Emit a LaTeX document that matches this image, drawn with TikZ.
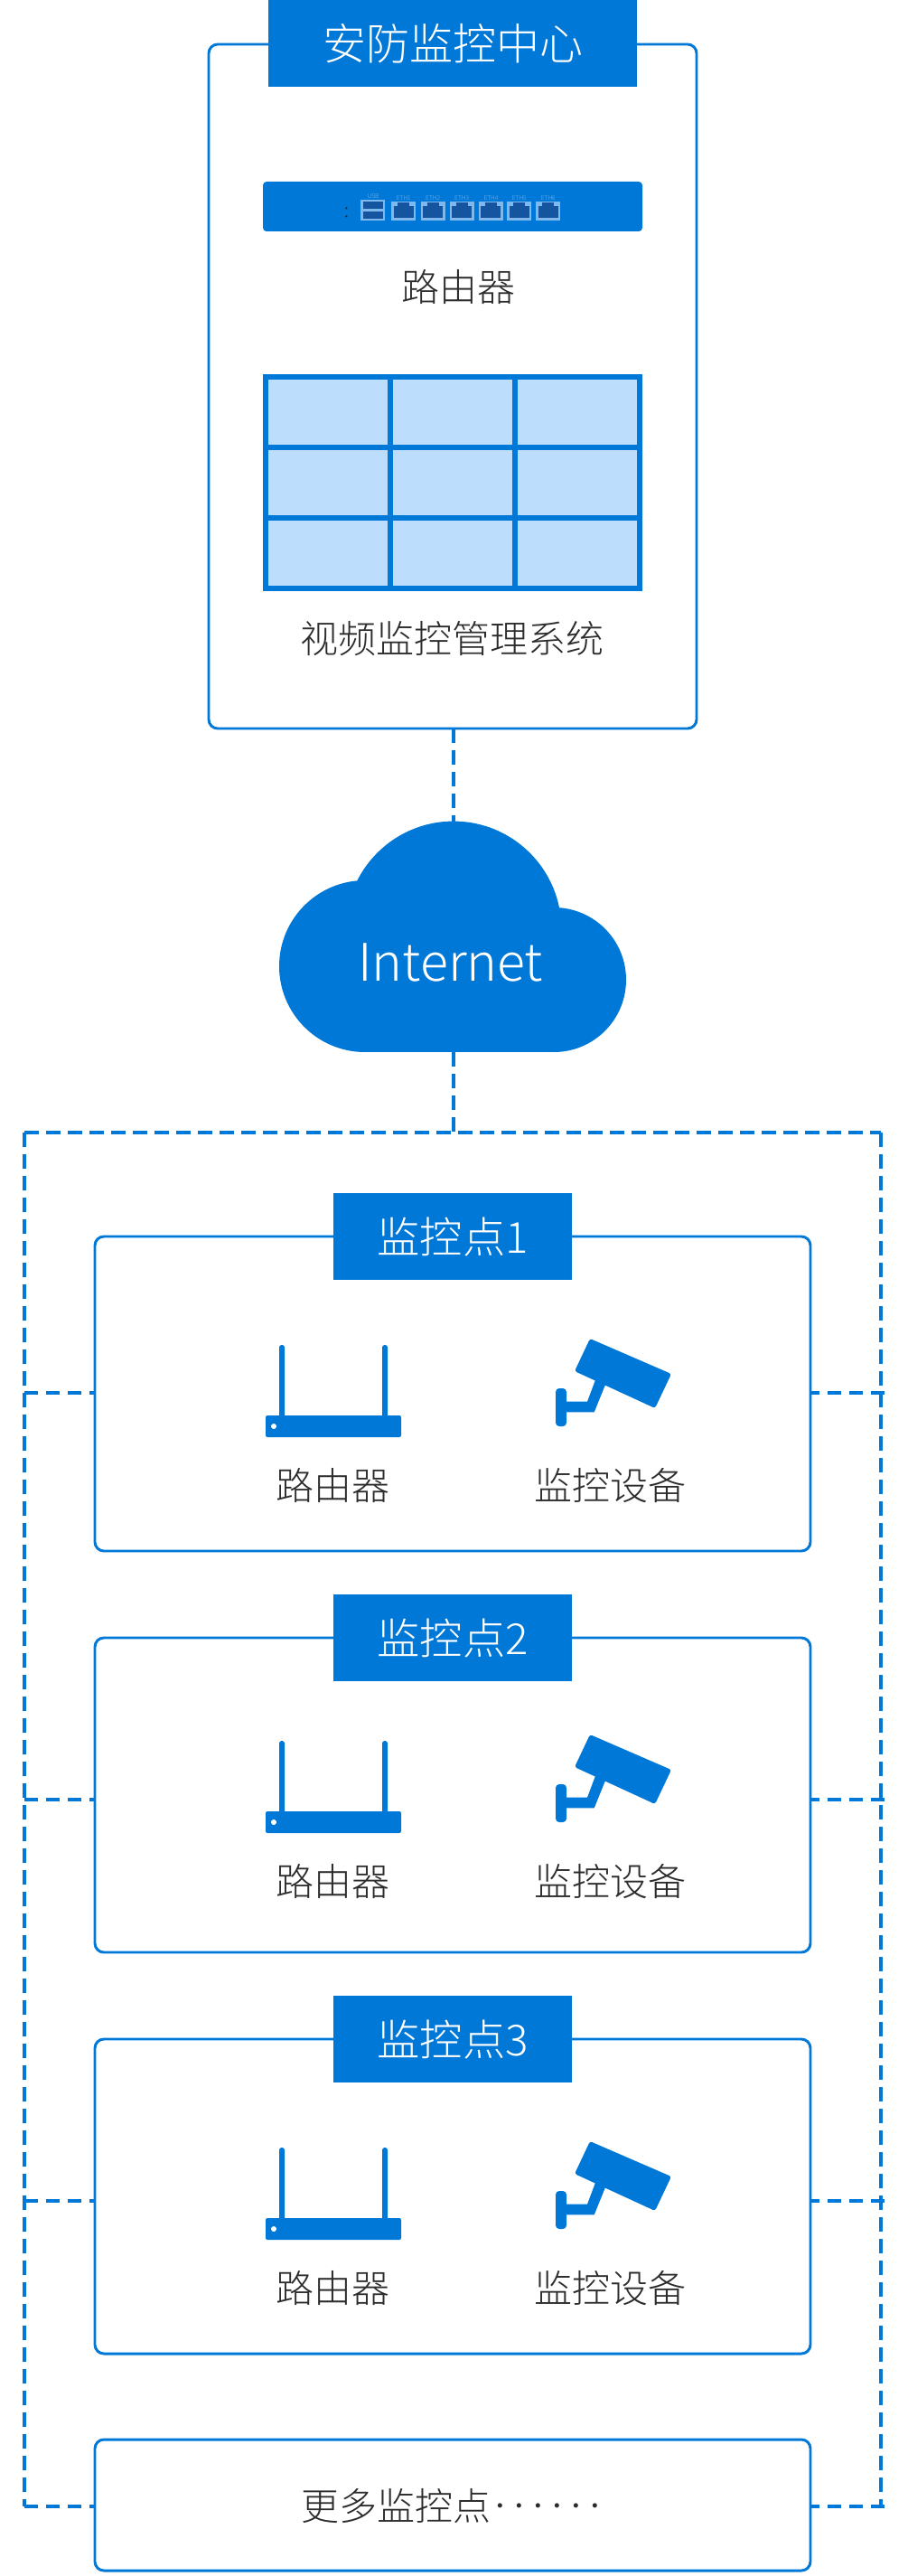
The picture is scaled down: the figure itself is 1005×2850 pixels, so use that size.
\documentclass[tikz,border=0pt]{standalone}
\usepackage{fontspec}
\setmainfont{Noto Sans CJK SC Light}
\definecolor{brand}{HTML}{0078D7}
\definecolor{ink}{HTML}{2C2C2C}
\definecolor{screen}{HTML}{BDDDFC}
\definecolor{port}{HTML}{7FB8EC}
\definecolor{portdark}{HTML}{15549E}
\newcommand{\pxu}{0.75pt}
\newcommand{\nardot}{\makebox[0.5em][c]{\raisebox{4.4pt}{\fontsize{20pt}{20pt}\selectfont ·}}}
\tikzset{
 x=0.75pt,y=-0.75pt,
 panel/.style={draw=brand,line width=2.2pt,fill=white,rounded corners=7.5pt,inner sep=0pt,outer sep=0pt},
 tag/.style={fill=brand,text=white,inner sep=0pt,anchor=center},
 caption/.style={text=ink,font=\fontsize{31.5pt}{32pt}\selectfont,inner sep=0pt,anchor=center},
 link/.style={draw=brand,line width=2.5pt,dash pattern=on 12pt off 6pt},
 sidelink/.style={draw=brand,line width=2.5pt,dash pattern=on 11pt off 7pt},
 portlabel/.style={font=\fontsize{5pt}{5pt}\selectfont,text=port,inner sep=0pt},
}
\newcommand{\siteicons}[2]{%
 \begin{scope}[shift={(0,#1)}]
 \fill[brand,rounded corners=2pt] (309,1488) rectangle (315,1572);
 \fill[brand,rounded corners=2pt] (423,1488) rectangle (429,1572);
 \fill[brand,rounded corners=1.5pt] (294,1566) rectangle (444,1590);
 \fill[white] (303,1578) circle (3);
 \fill[brand] (659.3,1526) -- (670,1532) -- (657.7,1562.3) -- (625,1562.3) -- (625,1550.7) -- (650,1550.7) -- cycle;
 \fill[brand,rounded corners=2pt] (653,1481) -- (743,1520) -- (725,1558) -- (636,1517) -- cycle;
 \fill[brand,rounded corners=3pt] (615,1536) rectangle (627,1578);
 \node[caption] (#2r) at (368.5,1643.5) {路由器};
 \node[caption] (#2c) at (675,1643.5) {监控设备};
 \end{scope}}
\begin{document}
\begin{tikzpicture}
\useasboundingbox (0,0) rectangle (1005,2850);
\fill[white] (0,0) rectangle (1005,2850);
% frame
\coordinate (ftl) at (27,1253);
\coordinate (ftr) at (975,1253);
\coordinate (fbl) at (27,2773);
\coordinate (fbr) at (975,2773);
\coordinate (ltip) at (27,2773);
\coordinate (rtip) at (979,2773);
\draw[link] (ftl) -- (ftr);
\draw[link] (ftl) -- (fbl);
\draw[link] (ftr) -- (fbr);
% centre
\node[panel,minimum width=540*\pxu,minimum height=757*\pxu] (center) at (501,427.5) {};
\node[tag,minimum width=408*\pxu,minimum height=96*\pxu,font=\fontsize{36pt}{36pt}\selectfont] (centertag) at (501,48) {安防监控中心};
% cloud
\node[inner sep=0pt,outer sep=0pt,minimum width=386*\pxu,minimum height=255*\pxu] (cloud) at (502,1036.5) {};
\draw[link] (center.south -| cloud.north) -- (cloud.north);
\draw[link] (cloud.south) -- (ftl -| cloud.south);
\fill[brand] (404,1069) circle (95);
\fill[brand] (613,1084) circle (80);
\fill[brand] (502,1028) circle (119.4);
\fill[brand] (404,1040) rectangle (613,1164);
\node[text=white,font=\fontsize{43pt}{43pt}\selectfont,inner sep=0pt] (net) at (498.5,1065) {Internet};
% router panel
\fill[brand,rounded corners=3pt] (291,201) rectangle (711,256);
\node[portlabel] (usb) at (413,217.3) {USB};
\fill[port] (399.3,221) rectangle (426,243.7);
\fill[portdark] (402,223.3) rectangle (424,231.3);
\fill[portdark] (402,233.7) rectangle (424,241.7);
\fill[ink] (383.3,230.3) circle (1.3);
\fill[ink] (383.3,239.3) circle (1.3);
\foreach \px/\lbl in {433.3/ETH1,465.7/ETH2,497.7/ETH3,530/ETH4,561.3/ETH5,593.3/ETH6}{
 \fill[port] (\px,223) rectangle (\px+27,243.7);
 \fill[portdark] (\px+2.3,227.7) rectangle (\px+24.3,241);
 \fill[portdark] (\px+7,224.5) rectangle (\px+20,227.7);
 \node[portlabel] (p\lbl) at (\px+13.5,219) {\lbl};
}
\node[caption] (cr) at (507,317.5) {路由器};
% video wall
\fill[screen] (291,414) rectangle (711,654);
\draw[brand,line width=4.5pt] (294,417) rectangle (708,651);
\draw[brand,line width=4.5pt] (432,417) -- (432,651) (570,417) -- (570,651) (294,495) -- (708,495) (294,573) -- (708,573);
\node[caption] (cv) at (500,707) {视频监控管理系统};
% sites
\foreach \boxtop/\ly/\txt/\nm in {1368/1541/监控点1/a,1812/1991/监控点2/b,2256/2435/监控点3/c}{
 \draw[sidelink] (ftl |- 0,\ly) -- (105,\ly);
 \draw[sidelink] (979,\ly) -- (897,\ly);
 \node[panel,minimum width=792*\pxu,minimum height=348*\pxu,anchor=north west] (\nm) at (105,\boxtop) {};
 \node[tag,minimum width=264*\pxu,minimum height=96*\pxu,font=\fontsize{35.5pt}{36pt}\selectfont] (\nm t) at (501,\boxtop) {\txt};
}
\siteicons{0}{a}
\siteicons{438}{b}
\siteicons{888}{c}
% more
\draw[sidelink] (ltip) -- (105,2773);
\draw[sidelink] (rtip) -- (897,2773);
\node[panel,minimum width=792*\pxu,minimum height=145*\pxu,anchor=north west] (more) at (105,2699) {};
\node[caption] (morelabel) at (501,2772) {更多监控点\nardot\nardot\nardot\nardot\nardot\nardot};
\end{tikzpicture}
\end{document}
